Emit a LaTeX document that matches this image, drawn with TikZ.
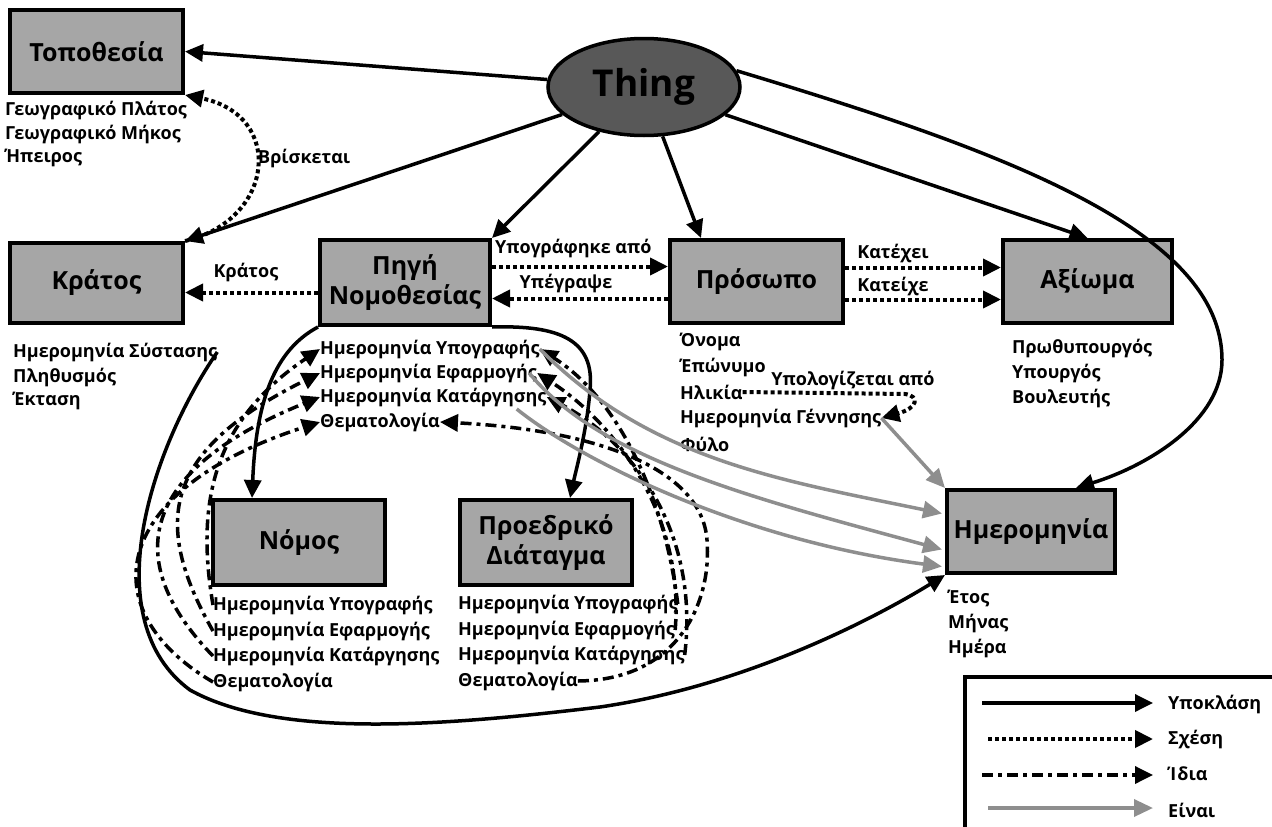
\documentclass[tikz,border=0pt]{standalone}
\usepackage{fontspec}
\setmainfont{Open Sans}
\usetikzlibrary{arrows.meta,calc,shapes.geometric}
\definecolor{boxgray}{HTML}{A6A6A6}
\definecolor{thinggray}{HTML}{585858}
\definecolor{isagray}{HTML}{8E8E8E}

\begin{document}
\begin{tikzpicture}[x=1pt,y=-1pt,
  tip/.style={-{Triangle[length=18pt,width=17pt]}},
  box/.style={draw,line width=4pt,fill=boxgray,align=center,inner sep=0pt,
    font=\bfseries\fontsize{25}{30}\selectfont},
  attr/.style={anchor=west,inner sep=0pt,font=\bfseries\fontsize{18}{21}\selectfont},
  lbl/.style={inner sep=0pt,font=\bfseries\fontsize{18}{21}\selectfont},
  sub/.style={tip,line width=3.5pt},
  rel/.style={tip,line width=4pt,dash pattern=on 4pt off 3pt},
  same/.style={tip,line width=3.5pt,dash pattern=on 11pt off 5pt on 4pt off 5pt},
  isa/.style={line width=3.5pt,draw=isagray,-{Triangle[length=19pt,width=17pt,fill=isagray]}}
]
\useasboundingbox (0,0) rectangle (1272,827);

% ---- classes ----
\node[ellipse,draw,line width=3.5pt,fill=thinggray,minimum width=192pt,minimum height=97pt,
  inner sep=0pt,font=\bfseries\fontsize{37}{42}\selectfont] (thing) at (644,87) {Thing};
\node[box,minimum width=173pt,minimum height=83pt] (topo) at (96.5,51.5) {Τοποθεσία};
\node[box,minimum width=173pt,minimum height=80pt] (kratos) at (96.5,283) {Κράτος};
\node[box,minimum width=170pt,minimum height=85pt] (pigi) at (405,282.5) {Πηγή\\Νομοθεσίας};
\node[box,minimum width=173pt,minimum height=83pt] (prosopo) at (756.5,281.5) {Πρόσωπο};
\node[box,minimum width=169pt,minimum height=83pt] (axioma) at (1087.5,281.5) {Αξίωμα};
\node[box,minimum width=172pt,minimum height=85pt] (nomos) at (299,542.5) {Νόμος};
\node[box,minimum width=172pt,minimum height=85pt] (pd) at (546,542.5) {Προεδρικό\\Διάταγμα};
\node[box,minimum width=168pt,minimum height=83pt] (imer) at (1031,531.5) {Ημερομηνία};

% ---- attributes ----
\node[attr] (tA) at (5,110) {Γεωγραφικό Πλάτος};
\node[attr] (tB) at (5,134) {Γεωγραφικό Μήκος};
\node[attr] (tC) at (5,158) {Ήπειρος};

\node[attr] (kS) at (13,352) {Ημερομηνία Σύστασης};
\node[attr] (kP) at (13,377) {Πληθυσμός};
\node[attr] (kE) at (13,401) {Έκταση};

\node[attr] (pU) at (320,349) {Ημερομηνία Υπογραφής};
\node[attr] (pE) at (320,373) {Ημερομηνία Εφαρμογής};
\node[attr] (pK) at (320,397) {Ημερομηνία Κατάργησης};
\node[attr] (pT) at (320,422) {Θεματολογία};

\node[attr] (sO) at (680,342) {Όνομα};
\node[attr] (sE) at (680,367) {Έπώνυμο};
\node[attr] (sH) at (680,392) {Ηλικία};
\node[attr] (sG) at (680,418) {Ημερομηνία Γέννησης};
\node[attr] (sF) at (680,444) {Φύλο};

\node[attr] (aP) at (1012,348) {Πρωθυπουργός};
\node[attr] (aY) at (1012,373) {Υπουργός};
\node[attr] (aB) at (1012,398) {Βουλευτής};

\node[attr] (nU) at (213,605) {Ημερομηνία Υπογραφής};
\node[attr] (nE) at (213,631) {Ημερομηνία Εφαρμογής};
\node[attr] (nK) at (213,656) {Ημερομηνία Κατάργησης};
\node[attr] (nT) at (213,682) {Θεματολογία};

\node[attr] (dU) at (458,604) {Ημερομηνία Υπογραφής};
\node[attr] (dE) at (458,630) {Ημερομηνία Εφαρμογής};
\node[attr] (dK) at (458,655) {Ημερομηνία Κατάργησης};
\node[attr] (dT) at (458,681) {Θεματολογία};

\node[attr] (eE) at (948,598) {Έτος};
\node[attr] (eM) at (948,623) {Μήνας};
\node[attr] (eH) at (948,648) {Ημέρα};

% ---- subclass links ----
\draw[sub] (thing) -- (topo.east);
\draw[sub] (thing) -- (kratos.north east);
\draw[sub] (thing) -- (pigi.north east);
\draw[sub] (thing) -- ($(prosopo.north west)+(33,0)$);
\draw[sub] (thing) -- (axioma.north);
\draw[sub] (thing.10) .. controls (1000,150) and (1222,230) .. (1222,360)
  .. controls (1222,420) and (1150,465) .. ($(imer.north)+(45,0)$);
\draw[sub] (pigi.south west) .. controls (275,350) and (256,400) .. ($(nomos.north west)+(41,0)$);
\draw[sub] (pigi.south east) .. controls (560,325) and (595,340) .. (590,390)
  .. controls (587,430) and (576,470) .. ($(pd.north west)+(112,0)$);
\draw[sub] (kS.east) .. controls (150,450) and (95,620) .. (190,690)
  .. controls (280,740) and (450,725) .. (600,707)
  .. controls (750,685) and (880,615) .. (imer.south west);

% ---- relations ----
\draw[rel] ([yshift=16pt]pigi.east) -- ([yshift=16pt]pigi.east -| prosopo.west);
\draw[rel] ([yshift=-17pt]prosopo.west) -- ([yshift=-17pt]prosopo.west -| pigi.east);
\draw[rel] ([yshift=-10pt]pigi.west) -- ([yshift=-10pt]pigi.west -| kratos.east);
\draw[rel] ([yshift=14pt]prosopo.east) -- ([yshift=14pt]prosopo.east -| axioma.west);
\draw[rel] ([yshift=-18pt]prosopo.east) -- ([yshift=-18pt]prosopo.east -| axioma.west);
\draw[rel] (kratos.north east) .. controls (275,220) and (285,115) .. (topo.south east);
\draw[rel] (sH.east) -- (905,394) .. controls (920,396) and (918,408) .. (sG.east);

\node[lbl,anchor=south west] (lUpo) at (495,258) {Υπογράφηκε από};
\node[lbl] (lUpe) at (566,283) {Υπέγραψε};
\node[lbl] (lKra) at (246,272) {Κράτος};
\node[lbl] (lKae) at (893,253) {Κατέχει};
\node[lbl] (lKai) at (893,286) {Κατείχε};
\node[lbl,anchor=west] (lBri) at (258,158) {Βρίσκεται};
\node[lbl] (lYpo) at (853,380) {Υπολογίζεται από};

% ---- same-as links ----
\draw[same] (nU.west) .. controls (195,500) and (215,420) .. (pU.west);
\draw[same] (nE.west) .. controls (150,520) and (165,450) .. (pE.west);
\draw[same] (nK.west) .. controls (120,560) and (140,470) .. (pK.west);
\draw[same] (nT.west) .. controls (90,610) and (110,490) .. (pT.west);

\draw[same] (dU.east) .. controls (665,500) and (620,400) .. (pU.east);
\draw[same] (dE.east) .. controls (685,510) and (610,420) .. (pE.east);
\draw[same] (dK.east) .. controls (700,530) and (630,440) .. (pK.east);
\draw[same] (dT.east) .. controls (680,680) and (712,600) .. (707,540)
  .. controls (702,470) and (600,430) .. (pT.east);

% ---- is-a links ----
\draw[isa] (pU.east) .. controls (650,460) and (780,480) .. ($(imer.west)+(-3,-18)$);
\draw[isa] ([xshift=-8pt]pE.east) .. controls (600,460) and (760,500) .. ($(imer.west)+(-3,18)$);
\draw[isa] ([xshift=-30pt,yshift=-12pt]pK.east) .. controls (580,460) and (740,540) .. ($(imer.west)+(-3,35)$);
\draw[isa] (sG.east) -- (imer.north west);

% ---- legend ----
\draw[line width=4pt] (1280,677) -- (965,677) -- (965,835);
\coordinate (g1a) at (982,703);  \coordinate (g1b) at (1153,703);
\coordinate (g2a) at (988,739);  \coordinate (g2b) at (1153,739);
\coordinate (g3a) at (982,775);  \coordinate (g3b) at (1153,775);
\coordinate (g4a) at (988,808);  \coordinate (g4b) at (1153,808);
\draw[sub] (g1a) -- (g1b);
\draw[rel] (g2a) -- (g2b);
\draw[same] (g3a) -- (g3b);
\draw[isa] (g4a) -- (g4b);
\node[lbl,anchor=west] (k1) at (1168,704) {Υποκλάση};
\node[lbl,anchor=west] (k2) at (1168,739) {Σχέση};
\node[lbl,anchor=west] (k3) at (1168,774) {Ίδια};
\node[lbl,anchor=west] (k4) at (1168,810) {Είναι};
\end{tikzpicture}
\end{document}
